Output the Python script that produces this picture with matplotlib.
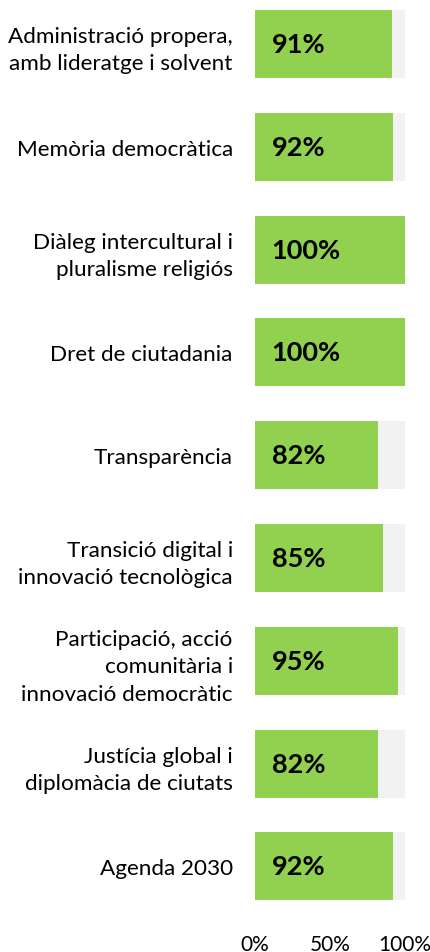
import matplotlib
matplotlib.use("Agg")
import matplotlib.pyplot as plt
from matplotlib.ticker import FuncFormatter

categories = [
    "Administració propera,\namb lideratge i solvent",
    "Memòria democràtica",
    "Diàleg intercultural i\npluralisme religiós",
    "Dret de ciutadania",
    "Transparència",
    "Transició digital i\ninnovació tecnològica",
    "Participació, acció\ncomunitària i\ninnovació democràtic",
    "Justícia global i\ndiplomàcia de ciutats",
    "Agenda 2030",
]
values = [91, 92, 100, 100, 82, 85, 95, 82, 92]
xticks = [0, 50, 100]

plt.rcParams['font.family'] = ['Lato', 'DejaVu Sans']

W, H = 430, 953
fig = plt.figure(figsize=(W / 100, H / 100), dpi=100)
# axes in pixel coordinates
left_px, right_px = 255, 405
top_px, bot_px = 0, 918
ax = fig.add_axes([left_px / W, 1 - bot_px / H, (right_px - left_px) / W, (bot_px - top_px) / H])

n = len(categories)
ypos = list(range(n))
ax.barh(ypos, [100] * n, height=0.66, color="#F2F2F2", zorder=1)
ax.barh(ypos, values, height=0.66, color="#92D050", zorder=2)
for y, v in zip(ypos, values):
    ax.text(11, y, f"{v}%", ha="left", va="center", fontsize=19.5, fontweight="bold",
            color="black", zorder=3)

ax.set_xlim(0, 100)
spacing = 102.8
ax.set_ylim((bot_px - 45) / spacing, (top_px - 45) / spacing)
ax.set_yticks(ypos)
ax.set_yticklabels(categories, fontsize=16.2, ha="right", linespacing=1.45)
ax.set_xticks(xticks)
ax.xaxis.set_major_formatter(FuncFormatter(lambda v, p: f"{int(v)}%"))
ax.tick_params(axis="y", length=0, pad=16)
ax.tick_params(axis="x", length=0, pad=12, labelsize=15)
for s in ax.spines.values():
    s.set_visible(False)
ax.set_facecolor("white")

fig.savefig("out.png", dpi=100)
